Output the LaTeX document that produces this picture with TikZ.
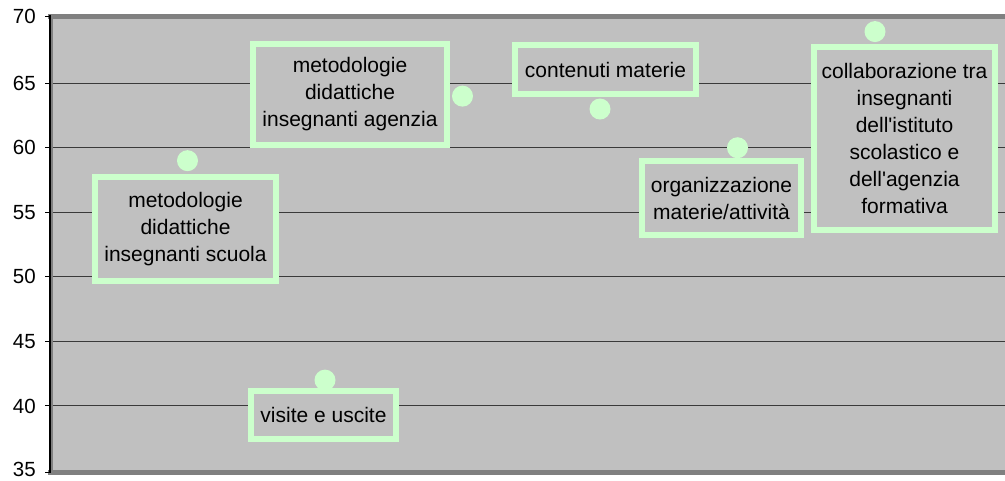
\documentclass[tikz,border=0pt]{standalone}
\usepackage{fontspec}
\setmainfont{Liberation Sans}
\usetikzlibrary{positioning}
\definecolor{plotbg}{HTML}{C0C0C0}
\definecolor{mint}{HTML}{CCFFCC}
\definecolor{edge}{HTML}{808080}
\definecolor{grid}{HTML}{3A3A3A}

\begin{document}
\begin{tikzpicture}[x=1pt,y=-1pt,
    lbl/.style={draw=mint,line width=6pt,fill=plotbg,inner sep=0pt,align=center,
      font=\fontsize{21}{27}\selectfont},
    pt/.style={circle,fill=mint,minimum size=21pt,inner sep=0pt},
    tick/.style={anchor=east,inner sep=0pt,font=\fontsize{20.5}{20.5}\selectfont}]
  \useasboundingbox (0,0) rectangle (1005,481);
  \clip (0,0) rectangle (1005,481);
  % plot area
  \fill[plotbg] (50,17) rectangle (1010,472);
  \foreach \v in {40,45,...,65}
    \draw[grid,line width=1pt] (50,{470.5-(\v-35)*12.91}) -- (1010,{470.5-(\v-35)*12.91});
  \draw[edge,line width=4.5pt] (48,16.5) -- (1010,16.5);
  \draw[edge,line width=4.5pt] (48,472.5) -- (1010,472.5);
  \draw[edge,line width=2pt] (52,17) -- (52,472);
  \draw[black,line width=1.5pt] (50,15) -- (50,473);
  % value axis
  \foreach \v in {35,40,...,70}{
    \pgfmathsetmacro{\yy}{\v==70 ? 16.5 : (\v==35 ? 472 : 470.5-(\v-35)*12.91)}
    \pgfmathsetmacro{\ty}{\v==35 ? 469.5 : \yy}
    \draw[black,line width=1pt] (45,\yy) -- (50,\yy);
    \node[tick] (t\v) at (36,\ty) {\v};
  }
  % points
  \foreach \i/\v in {1/59,2/42,3/64,4/63,5/60,6/69}
    \node[pt] (p\i) at ({50+\i*137.5},{470.5-(\v-35)*12.91}) {};
  % labels
  \node[lbl,minimum width=181pt,minimum height=104pt] (scuola) at (185.5,229)
    {metodologie\\didattiche\\insegnanti scuola};
  \node[lbl,minimum width=145pt,minimum height=48pt] (uscite) at (323.5,415)
    {visite e uscite};
  \node[lbl,minimum width=194pt,minimum height=101pt] (agenzia) at (350,94.5)
    {metodologie\\didattiche\\insegnanti agenzia};
  \node[lbl,minimum width=181pt,minimum height=49pt] (contenuti) at (605.5,69.5)
    {contenuti materie};
  \node[lbl,minimum width=159pt,minimum height=74pt] (organizz) at (721.5,198)
    {organizzazione\\materie/attività};
  \node[lbl,minimum width=181pt,minimum height=183pt] (collab) at (904.5,138.5)
    {collaborazione tra\\insegnanti\\dell\textquotesingle istituto\\scolastico e\\dell\textquotesingle agenzia\\formativa};
\end{tikzpicture}
\end{document}
